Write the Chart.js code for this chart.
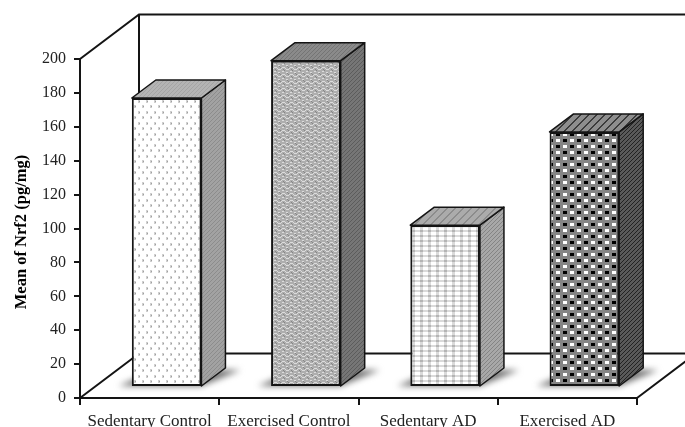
<!DOCTYPE html>
<html lang="en">
<head>
    <meta charset="UTF-8">
    <title>Mean of Nrf2</title>
    <script src="https://cdn.jsdelivr.net/npm/chart.js"></script>
    <style>
        body { margin: 0; background: #fff; }
        canvas { display: block; }
    </style>
</head>
<body>
    <canvas id="nrf2Chart" width="685" height="427"></canvas>
    <script>
        const categories = ['Sedentary Control', 'Exercised Control', 'Sedentary AD', 'Exercised AD'];
        const nrf2Values = [170.5, 192.5, 95.5, 150.5];
        const yAxisLabel = 'Mean of Nrf2 (pg/mg)';

        const INK = '#141414';
        // oblique projection of the box: wall depth and bar placement on the floor
        const WALL_DX = 59, WALL_DY = -44.5;
        const BAR_DX = 17, BAR_DY = -11;
        const BOX_DX = 24, BOX_DY = -18;

        function tile(w, h, draw) {
            const c = document.createElement('canvas');
            c.width = w;
            c.height = h;
            const g = c.getContext('2d');
            draw(g);
            return g.createPattern(c, 'repeat');
        }

        function fillBg(g, color, w, h) {
            g.fillStyle = color;
            g.fillRect(0, 0, w, h);
        }

        function hatch(bg, fg, size) {
            return tile(size, size, g => {
                fillBg(g, bg, size, size);
                g.fillStyle = fg;
                for (let i = 0; i < size; i++) {
                    g.fillRect(i, size - 1 - i, 1, 1);
                    if (size > 4) g.fillRect(i, (2 * size - 2 - i) % size, 1, 1);
                }
            });
        }

        const dots = tile(8, 11, g => {
            fillBg(g, '#ffffff', 8, 11);
            g.fillStyle = '#cfcfcf';
            g.fillRect(1, 1, 2, 3);
            g.fillRect(5, 6, 2, 3);
            g.fillStyle = '#a0a0a0';
            g.fillRect(2, 2, 1, 1);
            g.fillRect(6, 7, 1, 1);
        });

        const waves = tile(8, 7, g => {
            fillBg(g, '#aeaeae', 8, 7);
            g.fillStyle = '#dcdcdc';
            [[0, 2], [1, 1], [2, 1], [3, 1], [4, 2], [5, 3], [6, 3], [7, 3], [1, 5], [2, 5], [5, 6], [6, 6]].forEach(p => g.fillRect(p[0], p[1], 1, 1));
            g.fillStyle = '#868686';
            [[2, 3], [3, 4], [6, 0], [7, 1]].forEach(p => g.fillRect(p[0], p[1], 1, 1));
        });

        const lightGrid = tile(8, 5, g => {
            fillBg(g, '#ffffff', 8, 5);
            g.fillStyle = '#dadada';
            g.fillRect(3, 0, 3, 5);
            g.fillRect(0, 1, 8, 2);
            g.fillStyle = '#b4b4b4';
            g.fillRect(3, 1, 3, 2);
        });

        const darkGrid = tile(14, 12, g => {
            fillBg(g, '#858585', 14, 12);
            g.fillStyle = '#ffffff';
            g.fillRect(0, 0, 4, 3);
            g.fillRect(7, 6, 4, 3);
            g.fillStyle = '#000000';
            g.fillRect(7, 0, 4, 3);
            g.fillRect(0, 6, 4, 3);
        });

        const frontFaces = [dots, waves, lightGrid, darkGrid];
        const sideFaces = [hatch('#a2a2a2', '#8c8c8c', 4), hatch('#767676', '#5c5c5c', 4), hatch('#a8a8a8', '#848484', 4), hatch('#5a5a5a', '#222222', 4)];
        const topFaces = [hatch('#b4b4b4', '#a4a4a4', 4), hatch('#8a8a8a', '#747474', 4), hatch('#ababab', '#8c8c8c', 8), hatch('#8e8e8e', '#3c3c3c', 8)];

        function poly(ctx, pts) {
            ctx.beginPath();
            pts.forEach((p, i) => i ? ctx.lineTo(p[0], p[1]) : ctx.moveTo(p[0], p[1]));
            ctx.closePath();
        }

        const boxPlugin = {
            id: 'box3d',
            beforeDatasetsDraw(chart) {
                const { ctx, chartArea: a } = chart;
                const far = chart.width + 10;

                // back wall and floor edges
                ctx.save();
                ctx.strokeStyle = INK;
                ctx.lineWidth = 2;
                ctx.beginPath();
                ctx.moveTo(a.left, a.top);
                ctx.lineTo(a.left + WALL_DX, a.top + WALL_DY);
                ctx.lineTo(far, a.top + WALL_DY);
                ctx.moveTo(a.left + WALL_DX, a.top + WALL_DY);
                ctx.lineTo(a.left + WALL_DX, a.bottom + WALL_DY);
                ctx.lineTo(far, a.bottom + WALL_DY);
                ctx.moveTo(a.left, a.bottom);
                ctx.lineTo(a.left + WALL_DX, a.bottom + WALL_DY);
                ctx.moveTo(a.right, a.bottom);
                ctx.lineTo(a.right + WALL_DX, a.bottom + WALL_DY);
                ctx.stroke();
                ctx.restore();

                const bars = chart.getDatasetMeta(0).data;

                // soft floor shadows
                bars.forEach(bar => {
                    const l = bar.x - bar.width / 2 + BAR_DX;
                    const r = l + bar.width;
                    const b = bar.base + BAR_DY;
                    ctx.save();
                    ctx.filter = 'blur(3px)';
                    ctx.fillStyle = '#6e6e6e';
                    poly(ctx, [[l - 13, b], [r, b], [r + BOX_DX + 15, b + BOX_DY + 2], [l + BOX_DX, b + BOX_DY + 2]]);
                    ctx.fill();
                    ctx.restore();
                });

                // side and top faces, the front face is the chart's own bar
                ctx.save();
                ctx.strokeStyle = INK;
                ctx.lineWidth = 1.5;
                ctx.lineJoin = 'round';
                bars.forEach((bar, i) => {
                    const l = bar.x - bar.width / 2 + BAR_DX;
                    const r = l + bar.width;
                    const t = bar.y + BAR_DY;
                    const b = bar.base + BAR_DY;
                    ctx.fillStyle = sideFaces[i];
                    poly(ctx, [[r, t], [r + BOX_DX, t + BOX_DY], [r + BOX_DX, b + BOX_DY], [r, b]]);
                    ctx.fill();
                    ctx.stroke();
                    ctx.fillStyle = topFaces[i];
                    poly(ctx, [[l, t], [l + BOX_DX, t + BOX_DY], [r + BOX_DX, t + BOX_DY], [r, t]]);
                    ctx.fill();
                    ctx.stroke();
                });
                ctx.restore();

                ctx.save();
                ctx.translate(BAR_DX, BAR_DY);
            },
            afterDatasetsDraw(chart) {
                chart.ctx.restore();

                // axis title sits a little below the plot centre
                const { ctx } = chart;
                ctx.save();
                ctx.translate(22, 232);
                ctx.rotate(-Math.PI / 2);
                ctx.textAlign = 'center';
                ctx.textBaseline = 'middle';
                ctx.fillStyle = '#000';
                ctx.font = 'bold 16.5px "Liberation Serif"';
                ctx.fillText(yAxisLabel, 0, 0);
                ctx.restore();
            }
        };

        new Chart(document.getElementById('nrf2Chart'), {
            type: 'bar',
            data: {
                labels: categories,
                datasets: [{
                    data: nrf2Values,
                    backgroundColor: frontFaces,
                    borderColor: INK,
                    borderWidth: 2,
                    borderSkipped: false,
                    categoryPercentage: 1,
                    barPercentage: 0.5,
                    clip: false
                }]
            },
            options: {
                responsive: false,
                animation: false,
                layout: { padding: { top: 59, right: 48, left: 0, bottom: 0 } },
                plugins: {
                    legend: { display: false },
                    tooltip: { enabled: false }
                },
                scales: {
                    x: {
                        afterFit: s => { s.height = 29; },
                        border: { color: INK, width: 2 },
                        grid: { drawOnChartArea: false, color: INK, lineWidth: 2, tickLength: 7 },
                        ticks: {
                            color: '#222',
                            padding: 6,
                            maxRotation: 0,
                            autoSkip: false,
                            font: { family: '"Liberation Serif"', size: 17 }
                        }
                    },
                    y: {
                        min: 0,
                        max: 200,
                        afterFit: s => { s.width = 80; },
                        border: { color: INK, width: 2 },
                        grid: { drawOnChartArea: false, color: INK, lineWidth: 2, tickLength: 6 },
                        ticks: {
                            stepSize: 20,
                            color: '#222',
                            padding: 8,
                            font: { family: '"Liberation Serif"', size: 16 }
                        }
                    }
                }
            },
            plugins: [boxPlugin]
        });
    </script>
</body>
</html>
